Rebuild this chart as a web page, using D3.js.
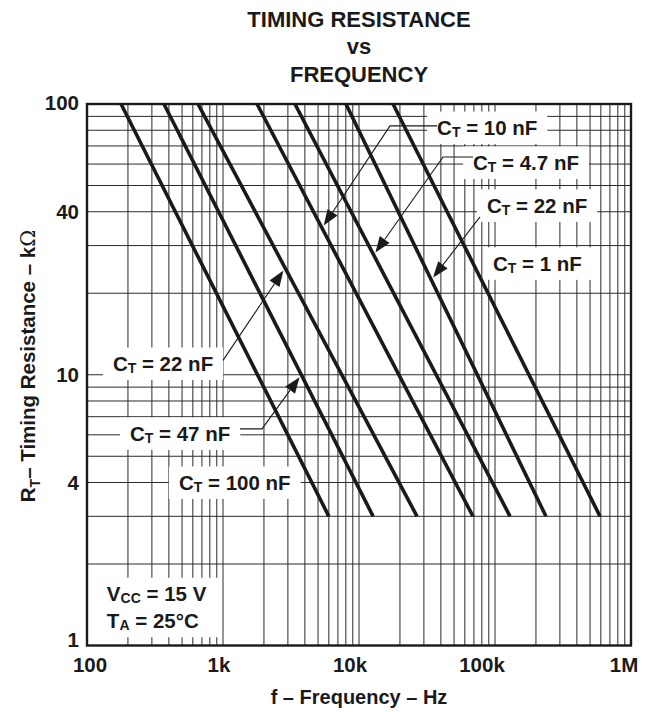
<!DOCTYPE html>
<html><head><meta charset="utf-8">
<script src="https://cdn.jsdelivr.net/npm/d3@7"></script>
<style>body{margin:0;background:#fff}svg{display:block}text{font-family:"Liberation Sans",Arial,Helvetica,sans-serif;font-weight:bold;fill:#1a1a1a}</style>
</head><body>
<svg id="c" width="649" height="712"></svg>
<script>
// ---- data ----
const capLabels = ["100 nF","47 nF","22 nF","10 nF","4.7 nF","2.2 nF","1 nF"];
const rStart = 100;   // kΩ, top end of each line
const rEnd = 3;       // kΩ, bottom end of each line
const freqAtRStart = [178, 368, 655, 1780, 3380, 8020, 17800];      // Hz at 100 kΩ
const freqAtREnd   = [6000, 12700, 26700, 68900, 129000, 237000, 592000]; // Hz at 3 kΩ
const xTickValues = [100, 1e3, 1e4, 1e5, 1e6];
const xTickLabels = ["100","1k","10k","100k","1M"];
const yTickValues = [1, 4, 10, 40, 100];
const yTickLabels = ["1","4","10","40","100"];
// annotations: label text, label anchor (f, R), leader points (f, R), arrow tip R on line idx
const annLabels = ["10 nF","4.7 nF","22 nF","1 nF","22 nF","47 nF","100 nF"];
const annAnchorF = [37500, 68900, 87300, 96600, 155, 207, 474];
const annAnchorR = [82.2, 61.1, 42.4, 25.9, 11.05, 6.1, 4.02];
const annLineIdx = [3, 4, 5, null, 2, 1, null];
const annTipR    = [34.8, 27.7, 22.4, null, 24.8, 10.0, null];
const annLeaderF = [[37500,16900],[68900,41500],[77600],[],[1000],[1334,1936],[]];
const annLeaderR = [[83,83],[63.7,63.7],[38.3],[],[11.3],[6.31,6.31],[]];

// ---- layout / style ----
const xTickDx = [3, -4, -9, -13, -7];
const yTickDy = [-6, 0, 0, 0, -2];

const svg = d3.select("#c");
const x = d3.scaleLog().domain([100, 1e6]).range([87, 631]);
const y = d3.scaleLog().domain([1, 100]).range([645.5, 104]);

// grid
const xg = [], yg = [];
for (let e = 2; e < 6; e++) for (let k = 1; k < 10; k++) xg.push(k * Math.pow(10, e));
xg.push(1e6);
for (let e = 0; e < 2; e++) for (let k = 1; k < 10; k++) yg.push(k * Math.pow(10, e));
yg.push(100);
const grid = svg.append("g").attr("stroke", "#2a2a2a").attr("stroke-width", 1);
grid.selectAll(".vx").data(xg).join("line")
  .attr("x1", d => x(d)).attr("x2", d => x(d)).attr("y1", y(100)).attr("y2", y(1));
grid.selectAll(".hy").data(yg).join("line")
  .attr("y1", d => y(d)).attr("y2", d => y(d)).attr("x1", x(100)).attr("x2", x(1e6));

const boxG = svg.append("g");
const lineG = svg.append("g");
const annG = svg.append("g");
const textG = svg.append("g");

function fOnLine(i, r) {
  const lf0 = Math.log10(freqAtRStart[i]), lf1 = Math.log10(freqAtREnd[i]);
  const lr0 = Math.log10(rStart), lr1 = Math.log10(rEnd);
  const t = (Math.log10(r) - lr0) / (lr1 - lr0);
  return Math.pow(10, lf0 + t * (lf1 - lf0));
}

lineG.selectAll("line").data(capLabels).join("line")
  .attr("x1", (d, i) => x(freqAtRStart[i])).attr("y1", y(rStart))
  .attr("x2", (d, i) => x(freqAtREnd[i])).attr("y2", y(rEnd))
  .attr("stroke", "#1a1a1a").attr("stroke-width", 3.6);

// frame
svg.append("rect").attr("x", x(100)).attr("y", y(100))
  .attr("width", x(1e6) - x(100)).attr("height", y(1) - y(100))
  .attr("fill", "none").attr("stroke", "#1a1a1a").attr("stroke-width", 2.4);

function ctText(g, px, py, val) {
  const t = g.append("text").attr("x", px).attr("y", py).attr("font-size", 20.5)
    .attr("dominant-baseline", "central");
  t.append("tspan").text("C");
  t.append("tspan").attr("font-size", 14).attr("dy", 5).text("T");
  t.append("tspan").attr("dy", -5).text(" = " + val);
  return t;
}
function boxBehind(t, padX, padY) {
  const b = t.node().getBBox();
  boxG.append("rect").attr("x", b.x - padX).attr("y", b.y - padY)
    .attr("width", b.width + 2 * padX).attr("height", b.height + 2 * padY).attr("fill", "#fff");
}

annLabels.forEach((lab, i) => {
  const px = x(annAnchorF[i]), py = y(annAnchorR[i]);
  const t = ctText(textG, px, py, lab);
  boxBehind(t, 10, 4);
  if (annLineIdx[i] !== null) {
    const li = annLineIdx[i];
    const tip = [x(fOnLine(li, annTipR[i])), y(annTipR[i])];
    const pts = annLeaderF[i].map((f, k) => [x(f), y(annLeaderR[i][k])]);
    const last = pts[pts.length - 1];
    const ang = Math.atan2(tip[1] - last[1], tip[0] - last[0]);
    const off = 3;
    const tp = [tip[0] - off * Math.cos(ang), tip[1] - off * Math.sin(ang)];
    const L = 16, W = 6;
    const base = [tp[0] - L * Math.cos(ang), tp[1] - L * Math.sin(ang)];
    annG.append("path").attr("d", d3.line()(pts.concat([base])))
      .attr("fill", "none").attr("stroke", "#1a1a1a").attr("stroke-width", 1.1);
    const nx = -Math.sin(ang), ny = Math.cos(ang);
    annG.append("path").attr("d", d3.line()([tp, [base[0] + W * nx, base[1] + W * ny], [base[0] - W * nx, base[1] - W * ny]]) + "Z")
      .attr("fill", "#1a1a1a");
  }
});

// conditions
const cond = textG.append("g");
const t1 = cond.append("text").attr("x", x(140)).attr("y", y(1.56)).attr("font-size", 20.5).attr("dominant-baseline", "central");
t1.append("tspan").text("V");
t1.append("tspan").attr("font-size", 14).attr("dy", 5).text("CC");
t1.append("tspan").attr("dy", -5).text(" = 15 V");
const t2 = cond.append("text").attr("x", x(140)).attr("y", y(1.24)).attr("font-size", 20.5).attr("dominant-baseline", "central");
t2.append("tspan").text("T");
t2.append("tspan").attr("font-size", 14).attr("dy", 5).text("A");
t2.append("tspan").attr("dy", -5).text(" = 25°C");
{
  const b = cond.node().getBBox();
  boxG.append("rect").attr("x", b.x - 14).attr("y", b.y - 4).attr("width", b.width + 28).attr("height", b.height + 8).attr("fill", "#fff");
}

// axis tick labels
textG.selectAll(".xt").data(xTickValues).join("text")
  .attr("x", (d, i) => x(d) + xTickDx[i]).attr("y", y(1) + 26).attr("text-anchor", "middle").attr("font-size", 20.5)
  .text((d, i) => xTickLabels[i]);
textG.selectAll(".yt").data(yTickValues).join("text")
  .attr("x", x(100) - 8).attr("y", (d, i) => y(d) + yTickDy[i]).attr("dominant-baseline", "central").attr("text-anchor", "end").attr("font-size", 20.5)
  .text((d, i) => yTickLabels[i]);

// titles
const tx = (x(100) + x(1e6)) / 2;
textG.append("text").attr("x", tx).attr("y", 27).attr("text-anchor", "middle").attr("font-size", 22).text("TIMING RESISTANCE");
textG.append("text").attr("x", tx).attr("y", 54).attr("text-anchor", "middle").attr("font-size", 22).text("vs");
textG.append("text").attr("x", tx).attr("y", 82).attr("text-anchor", "middle").attr("font-size", 22).text("FREQUENCY");
textG.append("text").attr("x", tx).attr("y", 704).attr("text-anchor", "middle").attr("font-size", 20).text("f – Frequency – Hz");
const yt = textG.append("text").attr("transform", `translate(35,366) rotate(-90)`)
  .attr("text-anchor", "middle").attr("font-size", 20.5);
yt.append("tspan").text("R");
yt.append("tspan").attr("font-size", 14).attr("dy", 5).text("T");
yt.append("tspan").attr("dy", -5).text("– Timing Resistance – k");
yt.append("tspan").attr("font-family", "'DejaVu Serif',serif").attr("font-weight", "normal").text("Ω");
</script>
</body></html>
